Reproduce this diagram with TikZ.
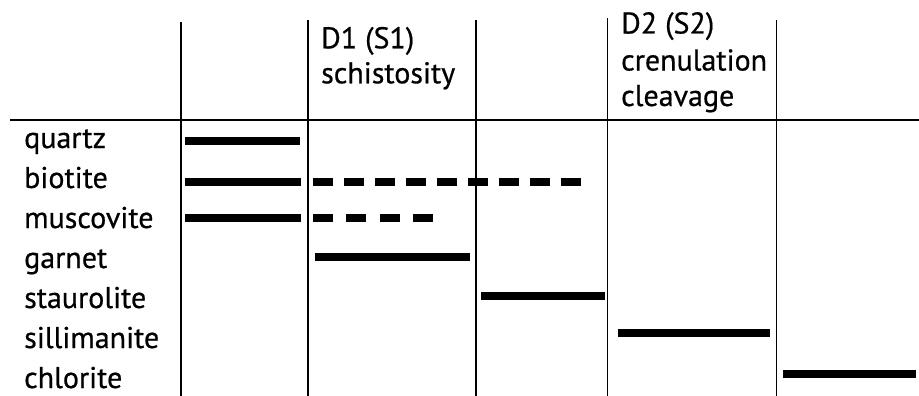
\documentclass[tikz,border=0pt]{standalone}
\usepackage{fontspec}
\setmainfont[UprightFeatures={FakeBold=0.6}]{PT Sans}
\begin{document}
\begin{tikzpicture}[x=1pt,y=-1pt,
  rule/.style={line width=1.9pt,black},
  bar/.style={line width=8pt,line cap=butt,black},
  dbar/.style={bar,dash pattern=on 19.5pt off 11.5pt},
  dbarshort/.style={bar,dash pattern=on 20pt off 13.3pt},
  txt/.style={anchor=base west,inner sep=0pt,font=\fontsize{30}{36}\selectfont}]
\useasboundingbox (0,0) rectangle (919,396);

% column separators and header rule
\draw[rule] (180.7,22) -- (180.7,396);
\draw[rule] (308,20) -- (308,396);
\draw[rule] (476,20) -- (476,396);
\draw[rule] (607.5,18) -- (607.5,396);
\draw[rule] (776.5,20) -- (776.5,396);
\draw[rule] (10,120) -- (919,120);

% column headings
\node[txt] (d1a) at (321,48.3) {D1 (S1)};
\node[txt] (d1b) at (321,83.3) {schistosity};
\node[txt] (d2a) at (621,33.5) {D2 (S2)};
\node[txt] (d2b) at (621,70.5) {crenulation};
\node[txt] (d2c) at (621,106) {cleavage};

% mineral names
\node[txt] (qtz) at (24,148)   {quartz};
\node[txt] (bt)  at (24,188)   {biotite};
\node[txt] (ms)  at (24,228)   {muscovite};
\node[txt] (grt) at (24,268)   {garnet};
\node[txt] (st)  at (24,308)   {staurolite};
\node[txt] (sil) at (24,348)   {sillimanite};
\node[txt] (chl) at (24,388)   {chlorite};

% growth bars
\draw[bar] (185,141) -- (300,141);
\draw[bar] (185,181.5) -- (301,181.5);
\draw[dbar] (313,181.5) -- (581,181.5);
\draw[bar] (185,218) -- (301,218);
\draw[dbarshort] (313,218) -- (433,218);
\draw[bar] (315,257) -- (470,257);
\draw[bar] (481,296) -- (605,296);
\draw[bar] (618,333) -- (770,333);
\draw[bar] (783,374) -- (916,374);
\end{tikzpicture}
\end{document}
